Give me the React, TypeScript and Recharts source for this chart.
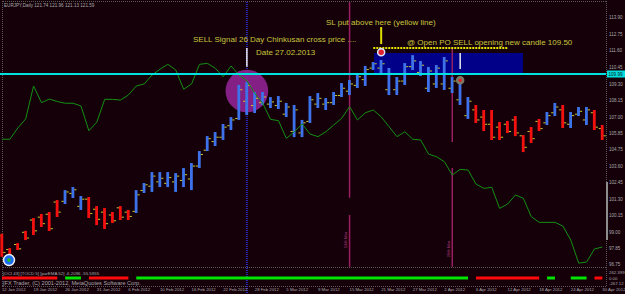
import React from 'react';
import {
  ComposedChart,
  Bar,
  Line,
  XAxis,
  YAxis,
  ReferenceLine,
  ReferenceArea,
  ReferenceDot,
} from 'recharts';

// ---------- data ----------
const dateLabels = [
  '12 Jan 2012', '19 Jan 2012', '26 Jan 2012', '31 Jan 2012', '6 Feb 2012',
  '10 Feb 2012', '16 Feb 2012', '22 Feb 2012', '28 Feb 2012', '5 Mar 2012',
  '9 Mar 2012', '15 Mar 2012', '21 Mar 2012', '27 Mar 2012', '2 Apr 2012',
  '6 Apr 2012', '12 Apr 2012', '18 Apr 2012', '24 Apr 2012', '30 Apr 2012',
];
const labelBars = [0, 4, 8, 12, 16, 20, 24, 28, 32, 36, 40, 44, 48, 52, 56, 60, 64, 68, 72, 76];

const highs = [
  98.9, 97.9, 98.25, 99.1, 99.99, 100.27, 100.41, 101.24, 101.93, 102.14,
  101.52, 101.45, 100.82, 100.68, 100.41, 100.82, 100.55, 101.93, 102.42, 103.18,
  103.18, 103.18, 103.11, 103.46, 103.81, 104.64, 105.68, 105.96, 106.52, 107.0,
  109.23, 109.43, 108.74, 108.74, 108.39, 108.46, 107.98, 107.84, 106.8, 108.46,
  108.67, 108.32, 108.74, 109.36, 109.57, 109.99, 110.55, 110.82, 110.96, 110.41,
  109.78, 110.75, 111.3, 110.89, 110.48, 110.61, 111.17, 109.78, 109.71, 108.39,
  107.84, 107.49, 107.49, 106.66, 106.73, 107.07, 105.75, 106.31, 106.87, 107.35,
  107.98, 107.84, 107.35, 107.7, 107.7, 107.49, 106.45,
];
const lows = [
  97.3, 97.0, 97.77, 98.46, 98.81, 99.37, 99.09, 100.06, 100.96, 101.38,
  100.55, 99.99, 99.5, 99.23, 99.64, 99.85, 99.85, 100.34, 101.73, 101.8,
  102.14, 102.14, 101.8, 102.14, 101.93, 103.46, 104.64, 104.99, 105.41, 106.1,
  106.8, 107.14, 107.28, 107.84, 107.63, 107.56, 107.0, 105.61, 105.61, 106.59,
  107.63, 107.49, 107.84, 108.39, 108.53, 109.02, 109.16, 110.27, 110.06, 108.53,
  108.53, 109.23, 110.27, 109.85, 108.74, 109.02, 108.88, 108.67, 107.84, 106.87,
  106.59, 106.03, 105.41, 105.41, 105.89, 105.68, 104.57, 105.2, 106.03, 106.45,
  107.07, 106.24, 106.24, 107.07, 106.45, 106.1, 105.41,
];
const opens = [
  98.75, 97.8, 98.15, 99.0, 99.85, 100.05, 100.25, 101.1, 101.15, 101.7,
  100.8, 101.3, 100.6, 100.4, 100.2, 100.7, 100.4, 100.45, 101.9, 102.2,
  102.5, 102.4, 102.5, 102.6, 102.7, 103.6, 104.7, 105.3, 105.6, 106.4,
  106.9, 108.1, 107.8, 108.0, 107.9, 107.8, 107.2, 106.0, 105.9, 106.7,
  107.9, 107.9, 108.0, 108.5, 108.8, 109.2, 109.6, 110.4, 110.4, 108.9,
  108.9, 109.5, 110.5, 110.1, 109.0, 109.3, 109.3, 109.0, 108.2, 107.1,
  107.5, 107.0, 106.5, 106.3, 106.5, 106.8, 105.7, 106.0, 106.7, 106.6,
  107.3, 107.5, 106.5, 107.2, 106.8, 107.3, 106.2,
];
const closes = [
  97.6, 97.25, 97.85, 98.6, 99.1, 99.6, 99.25, 100.4, 101.8, 101.95,
  101.3, 100.3, 99.9, 99.6, 99.8, 100.05, 100.1, 101.6, 102.3, 102.9,
  102.75, 102.8, 102.9, 103.0, 103.6, 104.4, 105.5, 105.6, 106.3, 106.8,
  108.9, 109.2, 108.3, 108.4, 108.05, 108.1, 107.7, 107.5, 106.6, 108.2,
  108.3, 108.0, 108.5, 109.0, 109.3, 109.8, 110.3, 110.7, 110.7, 110.0,
  109.5, 110.5, 110.9, 110.6, 110.2, 110.4, 110.9, 109.5, 109.5, 108.1,
  106.8, 106.5, 105.6, 105.6, 106.0, 105.9, 104.9, 105.5, 106.2, 107.1,
  107.7, 106.6, 107.1, 107.4, 107.5, 106.3, 105.7,
];
const laggingLine = [
  105.46, 105.46, 106.24, 106.87, 109.16, 108.0, 108.25, 108.08, 107.96, 107.96,
  107.77, 106.05, 106.64, 108.23, 108.23, 108.18, 108.53, 109.16, 109.3, 109.92,
  110.32, 110.66, 110.27, 108.93, 109.3, 110.66, 110.73, 110.39, 109.8, 110.55,
  109.92, 109.52, 108.65, 107.96, 106.84, 106.75, 105.52, 105.98, 106.52, 105.82,
  105.64, 105.98, 106.45, 106.91, 107.72, 106.8, 107.3, 107.49, 107.02, 106.33,
  105.64, 105.98, 105.46, 105.41, 104.43, 104.25, 103.9, 102.98, 103.37, 103.32,
  102.35, 102.05, 102.12, 100.66, 100.96, 101.59, 101.36, 100.08, 99.69, 99.69,
  99.69, 99.43, 98.46, 96.86, 96.93, 97.84, 97.98,
];
const trendSign = [
  -1, -1, -1, -1, -1, -1, -1, -1, 1, 1,
  1, -1, -1, -1, -1, -1, -1, 1, 1, 1,
  1, 1, 1, 1, 1, 1, 1, 1, 1, 1,
  1, 1, 1, 1, 1, 1, 1, 1, 1, 1,
  1, 1, 1, 1, 1, 1, 1, 1, 1, 1,
  1, 1, 1, 1, 1, 1, 1, 1, 1, 1,
  -1, -1, -1, -1, -1, -1, -1, -1, -1, 1,
  1, -1, 1, 1, 1, -1, -1,
];
const priceTicks = [113.9, 112.75, 111.6, 110.45, 109.3, 108.15, 107.0, 105.85, 104.75, 103.6, 102.45, 101.3, 100.15, 99.0, 97.85, 96.75];
const indicatorTicks = [262.399, 0, -267.12];
const lastPrice = 109.99;

const data = highs.map((h, i) => ({
  i,
  high: h,
  low: lows[i],
  open: opens[i],
  close: closes[i],
  hl: [lows[i], h],
  lag: laggingLine[i],
  indUp: trendSign[i] > 0 ? 0 : null,
  indDn: trendSign[i] < 0 ? 0 : null,
}));

// ---------- styling ----------
const FONT = '"Liberation Sans", Arial, sans-serif';
const BG = '#15000a';
const GRAY = '#a8a8a8';
const YEL = '#c6c63a';
const MAG = '#9a1f62';
const W = 625;
const H = 294;
const MARGIN = { top: 2, right: 0, bottom: 0, left: 0 };

const Candle = (props: any) => {
  const { x, y, width, height, payload } = props;
  if (x == null || y == null) return null;
  const cx = x + width / 2;
  const { high, low, open, close } = payload;
  const k = height / (high - low);
  const py = (p: number) => y + (high - p) * k;
  const up = close >= open;
  const col = up ? '#3d72ea' : '#f51010';
  return (
    <g>
      <rect x={cx - 1.4} y={y} width={2.8} height={Math.max(height, 1)} fill={col} />
      <rect x={cx - 3.6} y={py(open) - 0.5} width={2.2} height={1} fill="#c8c832" />
      <rect x={cx + 1.4} y={py(close) - 0.5} width={2.2} height={1} fill="#c8c832" />
    </g>
  );
};

const PriceTag = (props: any) => {
  const vb = props.viewBox || {};
  const x = (vb.x || 0) + (vb.width || 0) + 1;
  const y = vb.y || 0;
  return (
    <g>
      <rect x={x} y={y - 3.5} width={18} height={7} fill="#00dede" />
      <text x={x + 1.5} y={y + 1.7} fontSize={4.6} fill="#0a1a1a" fontFamily={FONT}>
        {lastPrice.toFixed(2)}
      </text>
    </g>
  );
};

const DateTick = (props: any) => {
  const { x, y, payload } = props;
  const idx = labelBars.indexOf(payload.value);
  if (idx < 0) return null;
  return (
    <text x={x} y={y + 4.3} fontSize={4.3} fill={GRAY} fontFamily={FONT} textAnchor="start">
      {dateLabels[idx]}
    </text>
  );
};

const NoTick = () => <g />;

const axes = (withTicks: boolean) => [
  <XAxis
    key="x"
    dataKey="i"
    type="number"
    domain={[-0.25, 76.46]}
    ticks={labelBars}
    interval={0}
    height={8}
    tickSize={0}
    tickMargin={1}
    axisLine={false}
    tickLine={false}
    tick={withTicks ? <DateTick /> : <NoTick />}
  />,
  <YAxis
    key="p"
    yAxisId="p"
    orientation="right"
    type="number"
    domain={[95.27, 114.99]}
    ticks={priceTicks}
    interval={0}
    width={19}
    tickSize={0}
    tickMargin={3}
    axisLine={false}
    tickLine={false}
    tickFormatter={(v: number) => v.toFixed(2)}
    tick={withTicks ? { fill: GRAY, fontSize: 4.5, fontFamily: FONT } : <NoTick />}
  />,
  <YAxis key="ind" yAxisId="ind" hide type="number" domain={[-381.7, 13168]} />,
];

const dotted = (extra: React.CSSProperties): React.CSSProperties => ({
  position: 'absolute',
  borderColor: '#585858',
  borderStyle: 'dotted',
  borderWidth: 0,
  ...extra,
});

export default function App() {
  return (
    <div
      style={{
        position: 'fixed',
        left: 0,
        top: 0,
        width: W,
        height: H,
        background: BG,
        overflow: 'hidden',
      }}
    >
      {/* frame */}
      <div style={dotted({ left: 2, top: 1, width: 604, borderTopWidth: 1 })} />
      <div style={dotted({ left: 2, top: 1, height: 285, borderLeftWidth: 1 })} />
      <div style={dotted({ left: 606, top: 1, height: 285, borderLeftWidth: 1 })} />
      <div style={dotted({ left: 2, top: 267, width: 604, borderTopWidth: 1 })} />
      <div style={dotted({ left: 2, top: 285.5, width: 604, borderTopWidth: 1 })} />
      <div style={{ position: 'absolute', left: 606, top: 182, width: 1.5, height: 58, background: '#8c8c8c' }} />

      {/* background objects layer */}
      <div style={{ position: 'absolute', left: 0, top: 0 }}>
        <ComposedChart width={W} height={H} data={data} margin={MARGIN}>
          {axes(false)}
          <Line
            yAxisId="p"
            dataKey="lag"
            stroke="none"
            strokeOpacity={0}
            dot={false}
            isAnimationActive={false}
          />
          <ReferenceArea
            yAxisId="p"
            x1={47.1}
            x2={65.95}
            y1={110.03}
            y2={111.45}
            fill="#000088"
            fillOpacity={1}
            stroke="none"
          />
          <ReferenceDot
            yAxisId="p"
            x={31}
            y={108.81}
            r={21.3}
            fill="#8e2390"
            fillOpacity={0.92}
            stroke="none"
          />
          <ReferenceLine
            yAxisId="p"
            segment={[{ x: 31, y: 114.99 }, { x: 31, y: 94.7 }]}
            ifOverflow="visible"
            stroke="#2a2ab8"
            strokeWidth={2}
            strokeDasharray="1 1"
          />
          <ReferenceLine yAxisId="p" segment={[{ x: 44, y: 114.99 }, { x: 44, y: 101.4 }]} stroke={MAG} strokeWidth={1.5} />
          <ReferenceLine yAxisId="p" segment={[{ x: 44, y: 100.2 }, { x: 44, y: 96.6 }]} stroke={MAG} strokeWidth={1.5} />
          <ReferenceLine yAxisId="p" segment={[{ x: 57, y: 111.8 }, { x: 57, y: 105.27 }]} stroke={MAG} strokeWidth={1.5} />
          <ReferenceLine yAxisId="p" segment={[{ x: 57, y: 103.46 }, { x: 57, y: 96.6 }]} stroke={MAG} strokeWidth={1.5} />
          <ReferenceLine
            yAxisId="p"
            segment={[{ x: 31, y: 111.8 }, { x: 31, y: 110.5 }]}
            stroke="#ececec"
            strokeWidth={1.5}
          />
        </ComposedChart>
      </div>

      {/* price layer */}
      <div style={{ position: 'absolute', left: 0, top: 0 }}>
        <ComposedChart width={W} height={H} data={data} margin={MARGIN}>
          {axes(true)}
          <Line
            yAxisId="p"
            dataKey="lag"
            type="linear"
            stroke="#139013"
            strokeWidth={1}
            dot={false}
            isAnimationActive={false}
          />
          <Bar yAxisId="p" dataKey="hl" shape={<Candle />} isAnimationActive={false} />
          <Line
            yAxisId="ind"
            dataKey="indUp"
            stroke="#00e400"
            strokeWidth={3}
            dot={false}
            connectNulls={false}
            isAnimationActive={false}
          />
          <Line
            yAxisId="ind"
            dataKey="indDn"
            stroke="#ff0a0a"
            strokeWidth={3}
            dot={false}
            connectNulls={false}
            isAnimationActive={false}
          />

          <ReferenceLine yAxisId="p" y={lastPrice} stroke="#00e2e2" strokeWidth={2} label={<PriceTag />} />
          {indicatorTicks.map((t) => (
            <ReferenceLine
              key={t}
              yAxisId="ind"
              y={t}
              stroke="none"
              label={{
                value: t === 0 ? '0.00' : String(t),
                position: 'right',
                offset: 3,
                fill: GRAY,
                fontSize: 4.3,
                fontFamily: FONT,
              }}
            />
          ))}

          <ReferenceLine
            yAxisId="p"
            segment={[{ x: 58, y: 111.45 }, { x: 58, y: 110.34 }]}
            stroke="#ececec"
            strokeWidth={1.5}
          />
          <ReferenceLine
            yAxisId="p"
            segment={[{ x: 47, y: 111.8 }, { x: 64, y: 111.8 }]}
            stroke="#e4e400"
            strokeWidth={2}
            strokeDasharray="2 1"
          />
          <ReferenceLine
            yAxisId="p"
            segment={[{ x: 48, y: 113.25 }, { x: 48, y: 112.07 }]}
            stroke="#dede00"
            strokeWidth={2}
          />
          <ReferenceDot yAxisId="p" x={48} y={111.5} r={3.5} fill="#e02030" stroke="#d8e4ff" strokeWidth={1.5} />
          <ReferenceDot yAxisId="p" x={58} y={109.55} r={3} fill="#e02020" stroke="#7a7a66" strokeWidth={2.5} />
          <ReferenceDot yAxisId="p" x={0.89} y={97.07} r={5.5} fill="#1c6cf0" stroke="#f0f0f0" strokeWidth={1.5} />
          <ReferenceDot yAxisId="p" x={0.89} y={97.07} r={1.8} fill="#20c020" stroke="none" />
        </ComposedChart>
      </div>

      {/* text annotations */}
      <svg width={W} height={H} style={{ position: 'absolute', left: 0, top: 0, pointerEvents: 'none' }}>
        <text x={4} y={7} fontSize={4.6} fill={GRAY} fontFamily={FONT}>
          EURJPY,Daily  121.74 121.96 121.13 121.59
        </text>
        <text x={193} y={42} fontSize={8} fill={YEL} fontFamily={FONT}>
          SELL Signal 26 Day Chinkusan cross price ....
        </text>
        <text x={256} y={54.5} fontSize={8} fill={YEL} fontFamily={FONT}>
          Date 27.02.2013
        </text>
        <text x={326} y={25} fontSize={8} fill={YEL} fontFamily={FONT}>
          SL put above here (yellow line)
        </text>
        <text x={407} y={45} fontSize={8} fill={YEL} fontFamily={FONT}>
          @ Open PO SELL opening new candle 109.50
        </text>
        <text x={3} y={275} fontSize={4.4} fill={GRAY} fontFamily={FONT}>
          [OCI 43] [TOCD 5] [parEMA 52]  -6.2096 -55.5955
        </text>
        <text x={3} y={284.6} fontSize={5.6} fill={GRAY} fontFamily={FONT}>
          [FX Trader, (C) 2001-2012, MetaQuotes Software Corp.
        </text>
        <text transform="translate(346.5,240) rotate(-90)" fontSize={4.2} fill="#b03a7c" fontFamily={FONT} textAnchor="middle">
          13th Mar
        </text>
        <text transform="translate(449.5,249) rotate(-90)" fontSize={4.2} fill="#b03a7c" fontFamily={FONT} textAnchor="middle">
          26th Mar
        </text>
      </svg>
    </div>
  );
}
